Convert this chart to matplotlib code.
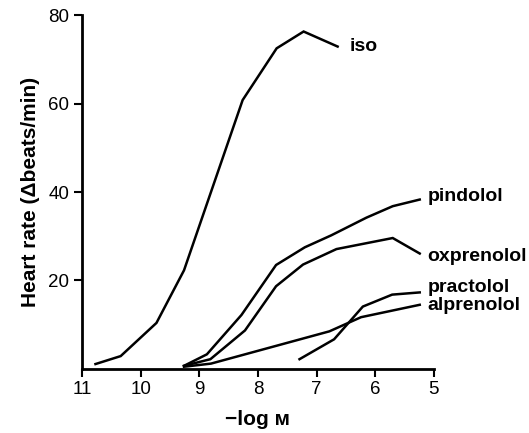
import matplotlib
matplotlib.use("Agg")
import matplotlib.pyplot as plt

plt.rcParams['font.family'] = ['Liberation Sans', 'DejaVu Sans']

# Dose-response curves: x = -log M, y = change in heart rate (beats/min)
iso_x = [10.77, 10.34, 9.73, 9.26, 8.26, 7.68, 7.22, 6.64]
iso_y = [1.1, 2.9, 10.4, 22.3, 60.8, 72.5, 76.3, 72.9]

pindolol_x = [9.26, 8.87, 8.28, 7.69, 7.20, 6.75, 6.15, 5.70, 5.24]
pindolol_y = [0.7, 3.3, 12.2, 23.5, 27.5, 30.2, 34.2, 36.8, 38.3]

oxprenolol_x = [9.26, 8.81, 8.22, 7.69, 7.23, 6.66, 5.70, 5.24]
oxprenolol_y = [0.7, 2.2, 8.7, 18.7, 23.6, 27.1, 29.6, 26.1]

practolol_x = [7.29, 6.70, 6.21, 5.71, 5.24]
practolol_y = [2.2, 6.7, 14.1, 16.8, 17.3]

alprenolol_x = [9.26, 8.80, 6.78, 6.24, 5.24]
alprenolol_y = [0.5, 1.2, 8.5, 11.7, 14.5]

series = [
    ("iso", iso_x, iso_y, (6.43, 73.0)),
    ("pindolol", pindolol_x, pindolol_y, (5.11, 39.0)),
    ("oxprenolol", oxprenolol_x, oxprenolol_y, (5.11, 25.4)),
    ("practolol", practolol_x, practolol_y, (5.11, 18.4)),
    ("alprenolol", alprenolol_x, alprenolol_y, (5.11, 14.3)),
]

x_ticks = [11, 10, 9, 8, 7, 6, 5]
y_ticks = [20, 40, 60, 80]

fig = plt.figure(figsize=(5.29, 4.33), dpi=100)
ax = fig.add_axes([0.155, 0.148, 0.665, 0.817])

for name, xs, ys, (lx, ly) in series:
    ax.plot(xs, ys, color='black', lw=1.8, solid_joinstyle='miter')
    ax.text(lx, ly, name, fontsize=14, fontweight='bold', ha='left', va='center',
            clip_on=False)

ax.set_xlim(11, 5)
ax.set_ylim(0, 80)
ax.set_xticks(x_ticks)
ax.set_xticklabels([str(t) for t in x_ticks])
ax.set_yticks(y_ticks)
ax.set_yticklabels([str(t) for t in y_ticks])

for side in ('top', 'right'):
    ax.spines[side].set_visible(False)
for side in ('left', 'bottom'):
    ax.spines[side].set_linewidth(2.0)

ax.tick_params(axis='both', direction='out', length=6, width=1.5,
               labelsize=13.5, pad=3)

ax.set_ylabel("Heart rate (\u0394beats/min)", fontsize=15, fontweight='bold',
              labelpad=6)
ax.set_xlabel("\u2212log \u1d0d", fontsize=15, fontweight='bold', labelpad=8)

fig.savefig("out.png", dpi=100)
